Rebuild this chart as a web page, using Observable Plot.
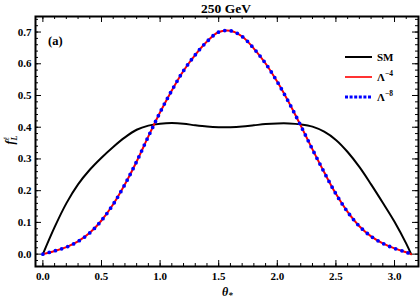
<!DOCTYPE html>
<html><head><meta charset="utf-8">
<script src="https://cdn.jsdelivr.net/npm/d3@7"></script>
<script src="https://cdn.jsdelivr.net/npm/@observablehq/plot@0.6"></script>
<style>body{margin:0;background:#fff}</style>
</head><body><div id="chart"></div>
<script>
// θ* grid (read positions)
const theta = [0,0.1,0.2,0.3,0.4,0.5,0.6,0.7,0.8,0.9,1.0,1.1,1.2,1.3,1.4,1.5,1.6,1.7,1.8,1.9,2.0,2.1,2.2,2.3,2.4,2.5,2.6,2.7,2.8,2.9,3.0,3.1,3.1416];
// SM curve
const sm = [0,0.085,0.160,0.220,0.266,0.304,0.338,0.368,0.392,0.405,0.411,0.413,0.411,0.406,0.402,0.400,0.400,0.402,0.406,0.410,0.412,0.412,0.409,0.402,0.386,0.360,0.322,0.275,0.220,0.162,0.102,0.033,0];
// Λ^-4 curve
const lam4 = [0,0.010,0.022,0.040,0.067,0.106,0.157,0.220,0.292,0.371,0.447,0.516,0.578,0.628,0.670,0.700,0.704,0.686,0.648,0.601,0.543,0.477,0.405,0.330,0.258,0.190,0.133,0.088,0.056,0.034,0.018,0.006,0];
// Λ^-8 curve (overlaps Λ^-4)
const lam8 = [0,0.010,0.022,0.040,0.067,0.106,0.157,0.220,0.292,0.371,0.447,0.516,0.578,0.628,0.670,0.700,0.704,0.686,0.648,0.601,0.543,0.477,0.405,0.330,0.258,0.190,0.133,0.088,0.056,0.034,0.018,0.006,0];

const seriesNames = ["SM", "Λ⁻⁴", "Λ⁻⁸"];
const xTicks = [0,0.5,1,1.5,2,2.5,3];
const xTickLabels = ["0.0","0.5","1.0","1.5","2.0","2.5","3.0"];
const yTicks = [0,0.1,0.2,0.3,0.4,0.5,0.6,0.7];
const yTickLabels = ["0.0","0.1","0.2","0.3","0.4","0.5","0.6","0.7"];
const xMinor = d3.range(0, 3.15, 0.1);
const yMinor = d3.range(-0.02, 0.745, 0.02);
const titleText = "250 GeV";
const panelText = "(a)";

const rows = (vals, s) => theta.map((t, i) => ({theta: t, value: vals[i], series: s}));
const smRows = rows(sm, seriesNames[0]);
const l4Rows = rows(lam4, seriesNames[1]);
const l8Rows = rows(lam8, seriesNames[2]);

const W = 420, H = 300, mt = 16, mb = 34, ml = 35, mr = 2;
const fh = H - mt - mb, fw = W - ml - mr;
const serif = "'Liberation Serif','DejaVu Serif',serif";
const xMap = new Map(xTicks.map((d, i) => [d, xTickLabels[i]]));
const yMap = new Map(yTicks.map((d, i) => [d, yTickLabels[i]]));

const chart = Plot.plot({
  width: W, height: H, marginTop: mt, marginBottom: mb, marginLeft: ml, marginRight: mr,
  style: {fontFamily: serif, fontSize: "11px", fontWeight: "bold", background: "#fff", color: "black"},
  x: {domain: [-0.063, 3.2046]},
  y: {domain: [-0.039, 0.749]},
  marks: [
    Plot.ruleX(xMinor, {x: d => d, insetTop: fh - 3, stroke: "black", strokeWidth: 1}),
    Plot.ruleX(xMinor, {x: d => d, insetBottom: fh - 3, stroke: "black", strokeWidth: 1}),
    Plot.ruleX(xTicks, {x: d => d, insetTop: fh - 6, stroke: "black", strokeWidth: 1}),
    Plot.ruleX(xTicks, {x: d => d, insetBottom: fh - 6, stroke: "black", strokeWidth: 1}),
    Plot.ruleY(yMinor, {y: d => d, insetRight: fw - 3, stroke: "black", strokeWidth: 1}),
    Plot.ruleY(yMinor, {y: d => d, insetLeft: fw - 3, stroke: "black", strokeWidth: 1}),
    Plot.ruleY(yTicks, {y: d => d, insetRight: fw - 6, stroke: "black", strokeWidth: 1}),
    Plot.ruleY(yTicks, {y: d => d, insetLeft: fw - 6, stroke: "black", strokeWidth: 1}),
    Plot.axisX(xTicks, {tickSize: 0, tickPadding: 6, tickFormat: d => xMap.get(d), label: null, fontWeight: "bold"}),
    Plot.axisY(yTicks, {tickSize: 0, tickPadding: 4, tickFormat: d => yMap.get(d), label: null, fontWeight: "bold"}),
    Plot.line(smRows, {x: "theta", y: "value", stroke: "black", strokeWidth: 2, curve: "catmull-rom"}),
    Plot.line(l4Rows, {x: "theta", y: "value", stroke: "#ff0000", strokeWidth: 2, curve: "catmull-rom"}),
    Plot.line(l8Rows, {x: "theta", y: "value", stroke: "#0000ff", strokeWidth: 3.8, strokeDasharray: "0 6.5", strokeLinecap: "round", curve: "catmull-rom"}),
    Plot.frame({stroke: "black", strokeWidth: 2})
  ]
});
document.getElementById("chart").appendChild(chart);

const svg = d3.select(chart);
// title and panel tag
svg.append("text").attr("x", 226).attr("y", 13).attr("text-anchor", "middle")
  .style("font-family", serif).style("font-weight", "bold").style("font-size", "13.5px").text(titleText);
svg.append("text").attr("x", 48).attr("y", 45).attr("text-anchor", "start")
  .style("font-family", serif).style("font-weight", "bold").style("font-size", "12.5px").text(panelText);

// x-axis label θ*
const xl = svg.append("text").attr("x", 222).attr("y", 296).attr("text-anchor", "start")
  .style("font-family", serif).style("font-style", "italic").style("font-weight", "bold").style("font-size", "12px");
xl.append("tspan").text("θ");
xl.append("tspan").attr("dy", 2).style("font-size", "9px").text("*");

// y-axis label
const yl = svg.append("text")
  .attr("transform", "translate(14,140) rotate(-90)")
  .attr("text-anchor", "middle")
  .style("font-family", serif).style("font-style", "italic").style("font-weight", "bold").style("font-size", "12px");
yl.append("tspan").text("f");
yl.append("tspan").attr("dy", 3).style("font-size", "8px").text("L");
yl.append("tspan").attr("dx", -5).attr("dy", -8).style("font-size", "8px").text("ℓ");

// legend
const lg = svg.append("g").attr("text-anchor", "start")
  .style("font-family", serif).style("font-weight", "bold").style("font-size", "11px");
const lgY = [57, 77, 97];
const lgStroke = ["black", "#ff0000", "#0000ff"];
const lgWidth = [2, 1.6, 3];
const lgDash = [null, null, "3 1.6"];
const lgBase = ["SM", "Λ", "Λ"];
const lgSup = [null, "−4", "−8"];
seriesNames.forEach((s, i) => {
  lg.append("line").attr("x1", 345).attr("x2", 372).attr("y1", lgY[i]).attr("y2", lgY[i])
    .attr("stroke", lgStroke[i]).attr("stroke-width", lgWidth[i]).attr("stroke-dasharray", lgDash[i]);
  const t = lg.append("text").attr("x", 377).attr("y", lgY[i] + 4).attr("text-anchor", "start");
  t.append("tspan").text(lgBase[i]);
  if (lgSup[i]) t.append("tspan").attr("dy", -5).style("font-size", "7.5px").text(lgSup[i]);
});
</script>
</body></html>
